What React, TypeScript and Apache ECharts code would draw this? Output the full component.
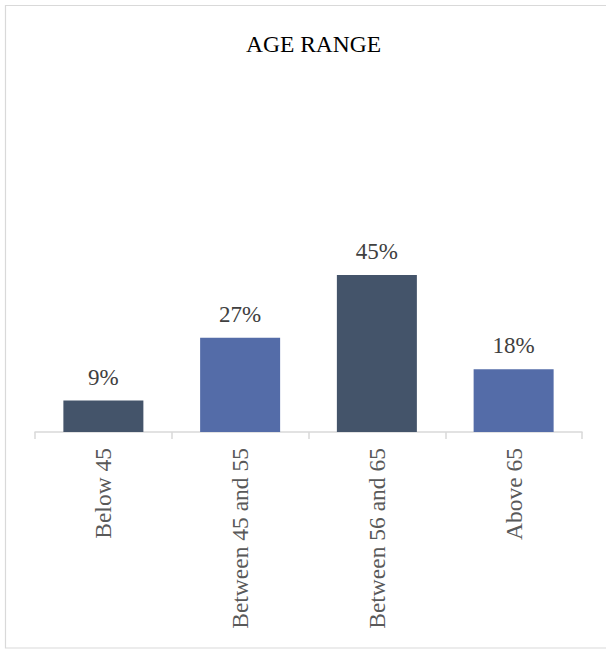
import React, { useEffect, useRef } from "react";
import * as echarts from "echarts";

const categories = ["Below 45", "Between 45 and 55", "Between 56 and 65", "Above 65"];
const values = [9, 27, 45, 18];
const barColors = ["#44546A", "#546CA8", "#44546A", "#546CA8"];

export default function App() {
  const ref = useRef<HTMLDivElement>(null);
  useEffect(() => {
    document.body.style.margin = "0";
    const chart = echarts.init(ref.current!, null, { renderer: "svg" });
    const font = "'Liberation Serif', 'Times New Roman', serif";
    chart.setOption({
      animation: false,
      backgroundColor: "#ffffff",
      title: {
        text: "AGE RANGE",
        left: 241,
        top: 27,
        textStyle: { fontFamily: font, fontSize: 23.5, fontWeight: "normal", color: "#000000" },
      },
      graphic: [
        {
          type: "rect",
          shape: { x: 5.5, y: 5.5, width: 620, height: 642.5 },
          style: { fill: "none", stroke: "#D9D9D9", lineWidth: 1.2 },
          silent: true,
        },
      ],
      grid: { left: 35, right: 24, top: 257.5, bottom: 219, containLabel: false },
      xAxis: {
        type: "category",
        data: categories,
        axisLine: { show: true, lineStyle: { color: "#D9D9D9", width: 1.5 } },
        axisTick: { show: true, length: 7, lineStyle: { color: "#D9D9D9", width: 1.5 } },
        axisLabel: {
          rotate: 90,
          margin: 16,
          fontFamily: font,
          fontSize: 23.5,
          color: "#595959",
        },
      },
      yAxis: {
        type: "value",
        min: 0,
        max: 50,
        show: false,
        splitLine: { show: false },
      },
      series: [
        {
          type: "bar",
          data: values.map((v, i) => ({ value: v, itemStyle: { color: barColors[i] } })),
          barWidth: 80,
          label: {
            show: true,
            position: "top",
            distance: 12,
            formatter: (p: any) => p.value + "%",
            fontFamily: font,
            fontSize: 23,
            color: "#404040",
          },
        },
      ],
    });
    return () => chart.dispose();
  }, []);
  return <div ref={ref} style={{ width: 606, height: 651, position: "absolute", left: 0, top: 0 }} />;
}
